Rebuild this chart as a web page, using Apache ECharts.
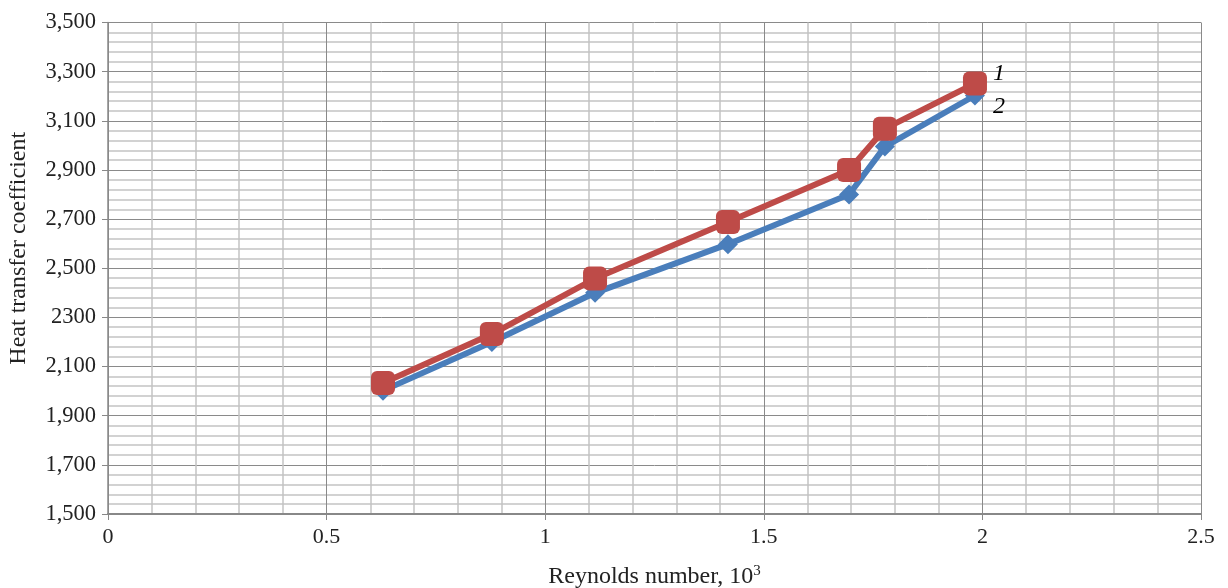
<!DOCTYPE html>
<html><head><meta charset="utf-8">
<script src="https://cdn.jsdelivr.net/npm/echarts@6/dist/echarts.min.js"></script>
<style>html,body{margin:0;padding:0;background:#fff}#c{width:1228px;height:588px}</style>
</head><body><div id="c"></div>
<script>
const reynolds1 = [0.629, 0.878, 1.114, 1.418, 1.695, 1.777, 1.983];
const heat1 = [2033, 2232, 2458, 2688, 2900, 3068, 3252];
const reynolds2 = [0.629, 0.878, 1.114, 1.418, 1.695, 1.777, 1.983];
const heat2 = [2002, 2200, 2400, 2598, 2800, 2995, 3203];
const yTickLabels = {1500:'1,500',1700:'1,700',1900:'1,900',2100:'2,100',2300:'2300',2500:'2,500',2700:'2,700',2900:'2,900',3100:'3,100',3300:'3,300',3500:'3,500'};
const xTickLabels = {0:'0',0.5:'0.5',1:'1',1.5:'1.5',2:'2',2.5:'2.5'};
const seriesNames = ['1','2'];

const font = 'Liberation Serif';
const chart = echarts.init(document.getElementById('c'));
const pair = (xs, ys) => xs.map((x, i) => [x, ys[i]]);
chart.setOption({
  animation: false,
  textStyle: {fontFamily: font},
  grid: {left: 108, right: 27, top: 22.5, bottom: 74, containLabel: false, outerBoundsMode: 'none'},
  xAxis: {
    type: 'value', min: 0, max: 2.5, interval: 0.5,
    name: 'Reynolds number, 10{s|3}', nameLocation: 'middle', nameGap: 50,
    nameTextStyle: {fontFamily: font, fontSize: 24, color: '#222',
      rich: {s: {fontFamily: font, fontSize: 15, color: '#222', verticalAlign: 'top', padding: [0,0,10,0]}}},
    axisLine: {show: true, lineStyle: {color: '#888', width: 2}},
    axisTick: {show: true, length: 6, lineStyle: {color: '#888'}},
    axisLabel: {fontFamily: font, fontSize: 22, color: '#222', margin: 12,
      formatter: v => xTickLabels[Math.round(v*10)/10] ?? ''},
    splitLine: {show: true, lineStyle: {color: '#8a8a8a', width: 1}},
    minorTick: {show: false, splitNumber: 5},
    minorSplitLine: {show: true, lineStyle: {color: '#c4c4c4', width: 1.5}}
  },
  yAxis: {
    type: 'value', min: 1500, max: 3500, interval: 200,
    name: 'Heat transfer coefficient', nameLocation: 'middle', nameGap: 77,
    nameTextStyle: {fontFamily: font, fontSize: 24, color: '#222', padding: [0,0,0,40]},
    axisLine: {show: true, lineStyle: {color: '#888', width: 1.5}},
    axisTick: {show: true, length: 6, lineStyle: {color: '#888'}},
    axisLabel: {fontFamily: font, fontSize: 22.5, color: '#222', margin: 12,
      formatter: v => yTickLabels[v] ?? ''},
    splitLine: {show: true, lineStyle: {color: '#8a8a8a', width: 1}},
    minorTick: {show: false, splitNumber: 5},
    minorSplitLine: {show: true, lineStyle: {color: '#c4c4c4', width: 1.5}}
  },
  series: [
    {
      name: seriesNames[1], type: 'line', data: pair(reynolds2, heat2),
      symbol: 'diamond', symbolSize: 20,
      lineStyle: {color: '#4A7EBB', width: 6},
      itemStyle: {color: '#4A7EBB'},
      endLabel: {show: true, formatter: seriesNames[1], fontFamily: font, fontStyle: 'italic',
        fontSize: 24, color: '#000', offset: [10, 11]},
      z: 2
    },
    {
      name: seriesNames[0], type: 'line', data: pair(reynolds1, heat1),
      symbol: 'roundRect', symbolSize: 24,
      lineStyle: {color: '#BE4B48', width: 6},
      itemStyle: {color: '#BE4B48'},
      endLabel: {show: true, formatter: seriesNames[0], fontFamily: font, fontStyle: 'italic',
        fontSize: 24, color: '#000', offset: [10, -10]},
      z: 3
    }
  ]
});
</script></body></html>
